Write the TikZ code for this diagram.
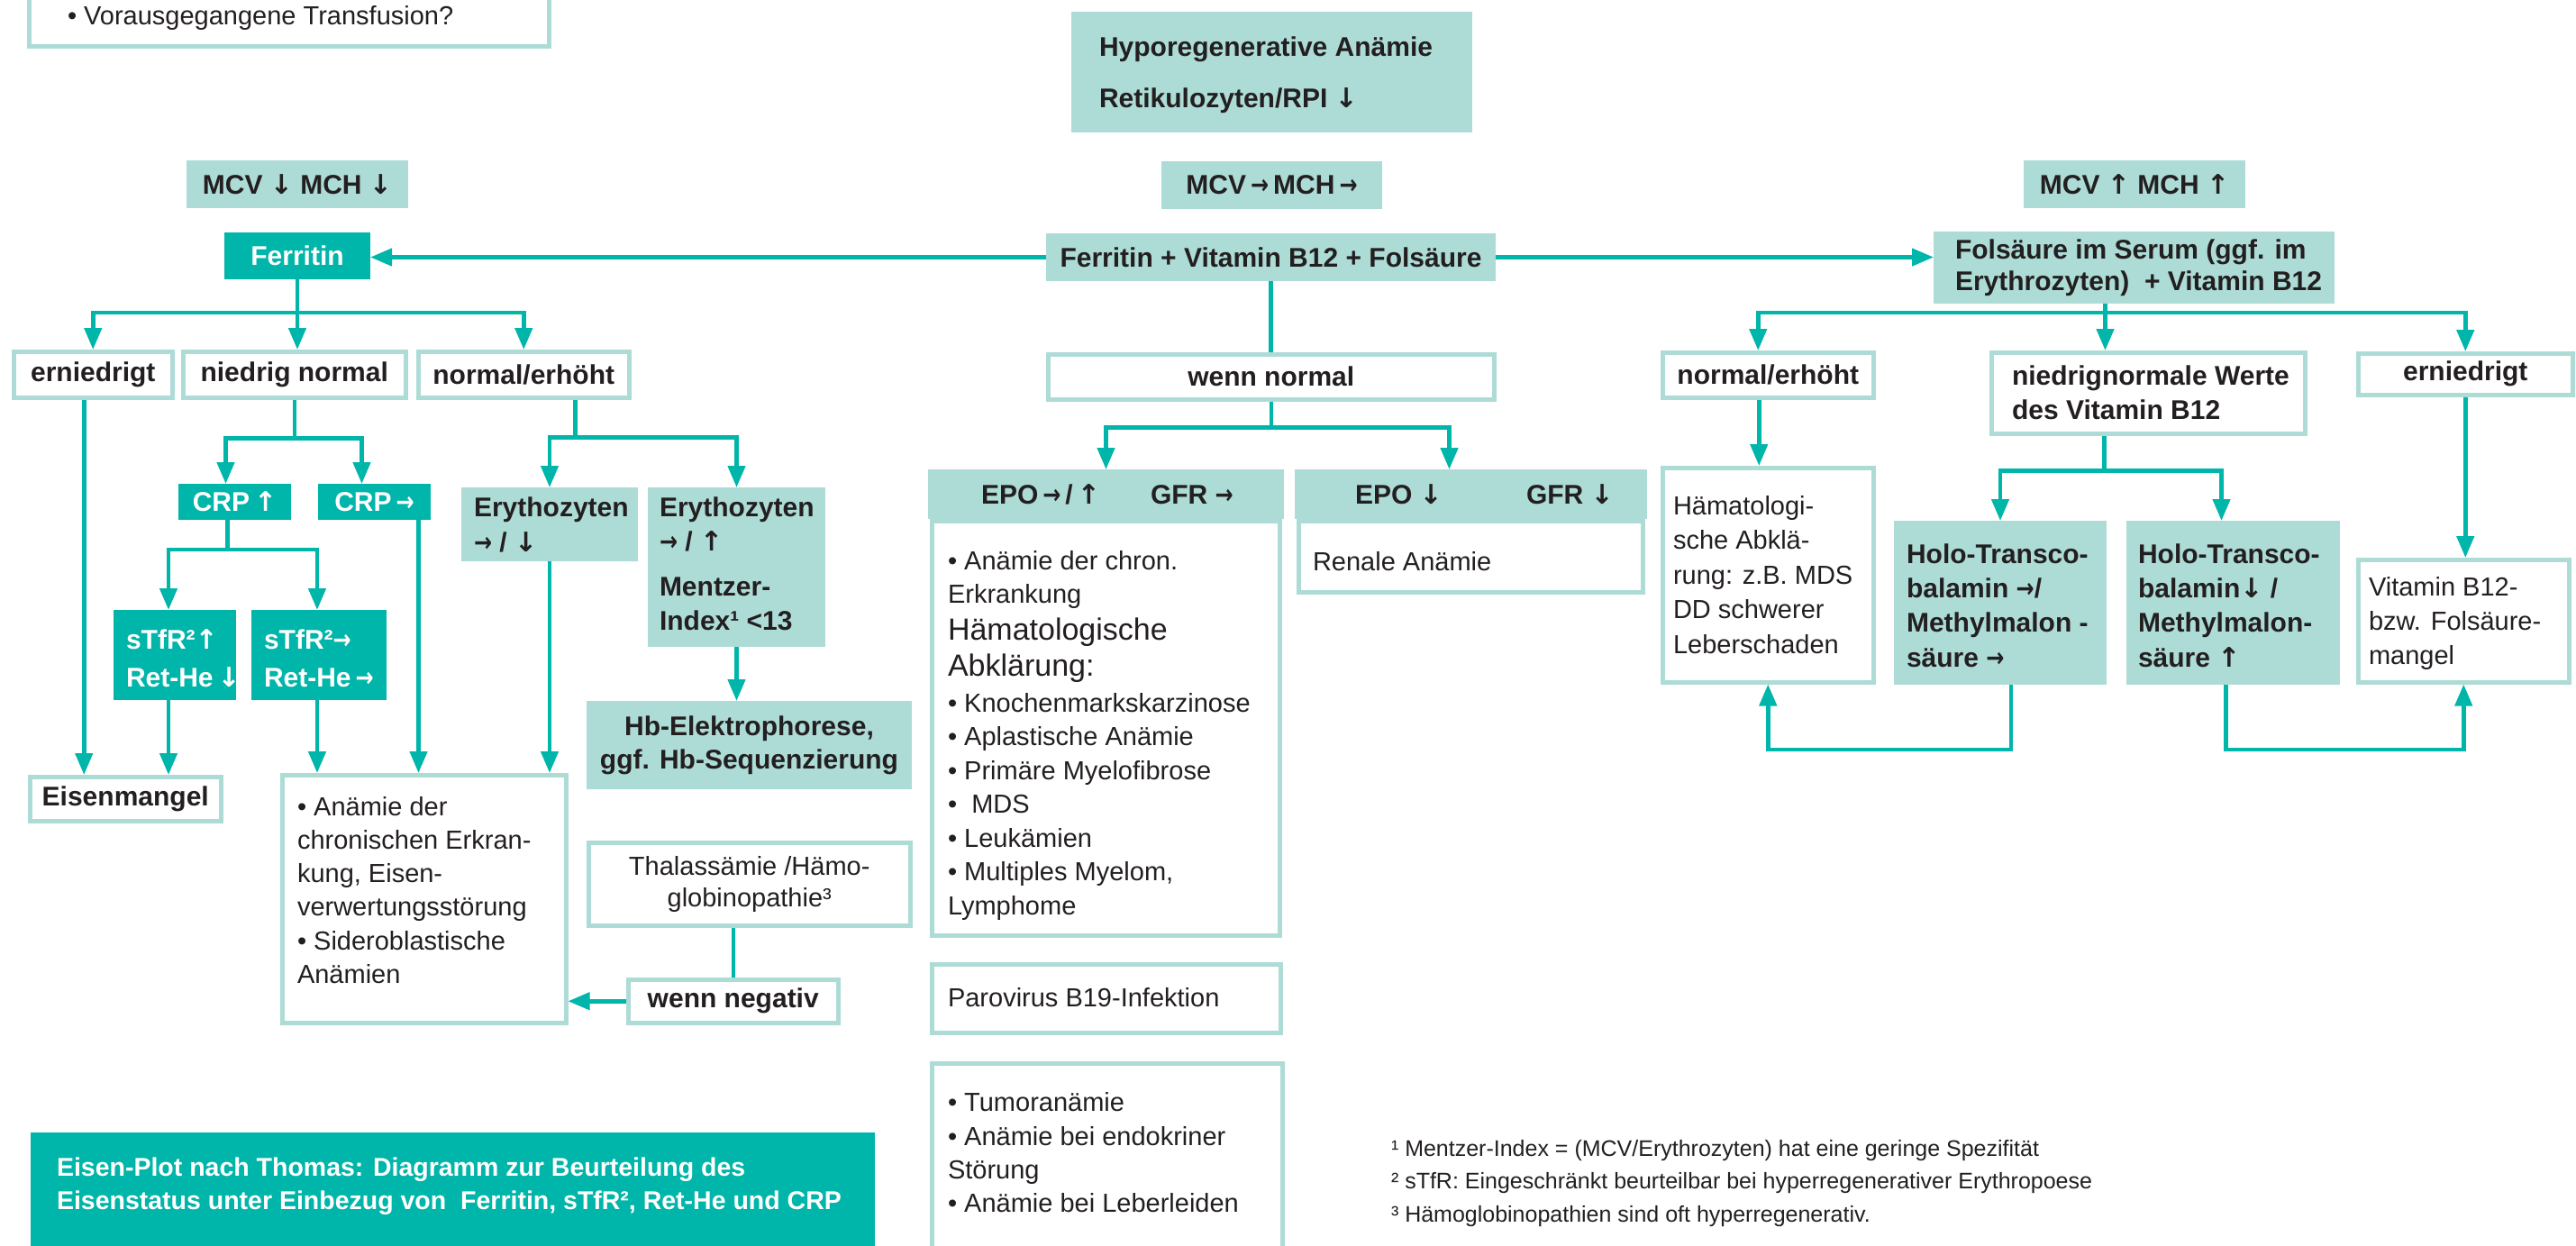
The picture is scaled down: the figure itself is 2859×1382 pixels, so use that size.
\documentclass[tikz,border=0pt]{standalone}
\usepackage{fontspec}
\setmainfont{Liberation Sans}
\newfontfamily\arrf{DejaVu Sans}
\usetikzlibrary{arrows.meta}
\definecolor{lt}{HTML}{ADDCD7}
\definecolor{dk}{HTML}{00B5A9}
\definecolor{tx}{HTML}{231F20}
\newcommand{\arD}{{\arrf\bfseries ↓}}
\newcommand{\arU}{{\arrf\bfseries ↑}}
\newcommand{\arR}{{\arrf\bfseries\scalebox{0.8}[1]{→}}}
\tikzset{
  base/.style={inner sep=0pt, outer sep=0pt, text=tx},
  obox/.style={base, draw=lt, line width=4.5pt, fill=white, outer sep=2.25pt},
  lbox/.style={base, fill=lt},
  dbox/.style={base, fill=dk, text=white},
  wh/.style 2 args={minimum width=#1pt, minimum height=#2pt, anchor=north west},
  fb/.style={font=\fontsize{30}{37}\selectfont\bfseries},
  fr/.style={font=\fontsize{29}{38}\selectfont},
  txt/.style={base, align=left, anchor=west},
  con/.style={draw=dk, line width=4.5pt},
  arr/.style={con, -{Triangle[length=24pt,width=19pt]}},
}
\begin{document}
\begin{tikzpicture}[x=1pt,y=-1pt]
\useasboundingbox (0,0) rectangle (2859,1382);
\clip (0,0) rectangle (2859,1382);
\fill[white] (0,0) rectangle (2859,1382);

% ---------- top ----------
\node[obox, wh={577}{76}] (tl) at (30,-27) {};
\node[txt, fr] (tlt) at (75,20) {• Vorausgegangene Transfusion?};

\node[lbox, wh={445}{134}] (hypo) at (1189,13) {};
\node[txt, font=\fontsize{30}{57}\selectfont\bfseries] (hypot) at (1220,83.5)
  {Hyporegenerative Anämie\\Retikulozyten/RPI \arD};

\node[lbox, fb, wh={246}{53}] (mcvd) at (207,178) {MCV \arD\ MCH \arD};
\node[lbox, fb, wh={245}{53}] (mcvn) at (1289,179) {MCV\,\arR\,MCH\,\arR};
\node[lbox, fb, wh={246}{53}] (mcvu) at (2246,178) {MCV \arU\ MCH \arU};

\node[dbox, fb, wh={162}{52}] (ferr) at (249,258) {Ferritin};
\node[lbox, fb, wh={499}{53}] (fpl) at (1161,259) {Ferritin + Vitamin B12 + Folsäure};
\node[lbox, wh={445}{80}] (fol) at (2146,257) {};
\node[txt, font=\fontsize{30}{35}\selectfont\bfseries] (folt) at (2170,297.5)
  {Folsäure im Serum (ggf. im\\Erythrozyten)\ \ + Vitamin B12};

% ---------- left column ----------
\node[obox, fb, wh={176}{51}] (ern1) at (13,388) {erniedrigt};
\node[obox, fb, wh={247}{51}] (nn) at (201,388) {niedrig normal};
\node[obox, fb, wh={234}{51}] (ne1) at (462,388) {normal/erhöht};

\node[dbox, fb, wh={125}{40}] (crpu) at (198,537) {CRP\,\arU};
\node[dbox, fb, wh={125}{40}] (crpe) at (353,537) {CRP\,\arR};

\node[dbox, wh={136}{100}] (stu) at (126,677) {};
\node[txt, text=white, font=\fontsize{30}{42}\selectfont\bfseries] (stut) at (140,731) {sTfR²\arU\\Ret-He\,\arD};
\node[dbox, wh={150}{100}] (ste) at (279,677) {};
\node[txt, text=white, font=\fontsize{30}{42}\selectfont\bfseries] (stet) at (293,731) {sTfR²\arR\\Ret-He\,\arR};

\node[lbox, wh={196}{82}] (ery1) at (512,541) {};
\node[txt, font=\fontsize{30}{39}\selectfont\bfseries] (ery1t) at (526,582.5) {Erythozyten\\\arR\ / \arD};
\node[lbox, wh={197}{177}] (ery2) at (719,541) {};
\node[txt, font=\fontsize{30}{38}\selectfont\bfseries] (ery2t) at (732,625.5)
  {Erythozyten\\\arR\ / \arU\\[12pt]Mentzer-\\Index¹ <13};

\node[lbox, wh={361}{98}, align=center, font=\fontsize{30}{37}\selectfont\bfseries] (hb) at (651,778)
  {Hb-Elektrophorese,\\ggf. Hb-Sequenzierung};

\node[obox, fb, wh={212}{49}] (eis) at (31,860) {Eisenmangel};
\node[obox, wh={315}{275}] (an) at (311,858) {};
\node[txt, font=\fontsize{29}{37.2}\selectfont] (ant) at (330,988)
  {• Anämie der\\chronischen Erkran-\\kung, Eisen-\\verwertungsstörung\\• Sideroblastische\\Anämien};

\node[obox, wh={357}{92}, align=center, font=\fontsize{29}{35}\selectfont] (thal) at (651,933)
  {Thalassämie /Hämo-\\globinopathie³};
\node[obox, fb, wh={233}{48}] (wn) at (695,1085) {wenn negativ};

\node[dbox, wh={937}{160}] (title) at (34,1257) {};
\node[txt, text=white, font=\fontsize{28.5}{37}\selectfont\bfseries] (titt) at (63,1316.5)
  {Eisen-Plot nach Thomas: Diagramm zur Beurteilung des\\Eisenstatus unter Einbezug von\ \ Ferritin, sTfR², Ret-He und CRP};

% ---------- middle column ----------
\node[obox, fb, wh={495}{50}] (wn2) at (1161,391) {wenn normal};

\node[lbox, fb, wh={395}{55}] (epo1h) at (1030,521)
  {\makebox[188pt][l]{EPO\,\arR\,/\,\arU}\makebox[89pt][l]{GFR \arR}};
\node[obox, wh={386}{460}] (epo1) at (1032,576) {};
\node[txt, font=\fontsize{29}{37.5}\selectfont] (epo1t) at (1052,816)
  {• Anämie der chron.\\Erkrankung\\[3pt]{\fontsize{34}{41}\selectfont Hämatologische}\\[3pt]{\fontsize{34}{41}\selectfont Abklärung:}\\[2pt]• Knochenmarkskarzinose\\• Aplastische Anämie\\• Primäre Myelofibrose\\•\ \ MDS\\• Leukämien\\• Multiples Myelom,\\Lymphome};

\node[lbox, fb, wh={391}{55}] (epo2h) at (1437,521)
  {\makebox[190pt][l]{EPO \arD}\makebox[67pt][l]{GFR \arD}};
\node[obox, wh={382}{79}] (epo2) at (1439,576) {};
\node[txt, fr] (epo2t) at (1457,623) {Renale Anämie};

\node[obox, wh={387}{76}] (par) at (1032,1068) {};
\node[txt, fr] (part) at (1052,1107) {Parovirus B19-Infektion};

\node[obox, wh={389}{260}] (tum) at (1032,1178) {};
\node[txt, font=\fontsize{29}{37.3}\selectfont] (tumt) at (1052,1279.5)
  {• Tumoranämie\\• Anämie bei endokriner\\Störung\\• Anämie bei Leberleiden};

\node[txt, font=\fontsize{25}{36.5}\selectfont] (fnt) at (1544,1313.5)
  {¹ Mentzer-Index = (MCV/Erythrozyten) hat eine geringe Spezifität\\² sTfR: Eingeschränkt beurteilbar bei hyperregenerativer Erythropoese\\³ Hämoglobinopathien sind oft hyperregenerativ.};

% ---------- right column ----------
\node[obox, fb, wh={234}{50}] (ne2) at (1843,389) {normal/erhöht};
\node[obox, wh={348}{90}] (nnw) at (2208,389) {};
\node[txt, font=\fontsize{30}{38}\selectfont\bfseries] (nnwt) at (2233,436)
  {niedrignormale Werte\\des Vitamin B12};
\node[obox, fb, wh={238}{46}] (ern2) at (2615,390) {erniedrigt};

\node[obox, wh={234}{238}] (ham) at (1843,517) {};
\node[txt, font=\fontsize{29}{38.5}\selectfont] (hamt) at (1857,638)
  {Hämatologi-\\sche Abklä-\\rung: z.B. MDS\\DD schwerer\\Leberschaden};

\node[lbox, wh={236}{182}] (holo1) at (2102,578) {};
\node[txt, font=\fontsize{30}{38.3}\selectfont\bfseries] (holo1t) at (2116,672)
  {Holo-Transco-\\balamin \arR/\\Methylmalon -\\säure \arR};
\node[lbox, wh={237}{182}] (holo2) at (2360,578) {};
\node[txt, font=\fontsize{30}{38.3}\selectfont\bfseries] (holo2t) at (2373,672)
  {Holo-Transco-\\balamin\arD\ /\\Methylmalon-\\säure \arU};

\node[obox, wh={234}{136}] (vit) at (2615,619) {};
\node[txt, font=\fontsize{29}{38}\selectfont] (vitt) at (2629,692)
  {Vitamin B12-\\bzw. Folsäure-\\mangel};

% ---------- connectors ----------
\draw[arr] (fpl.west) -- (fpl.west -| ferr.east);
\draw[arr] (fpl.east) -- (fpl.east -| fol.west);

\draw[arr] (ferr.south) -- ++(0,37) -| (ern1.north);
\draw[arr] (ferr.south) -- (ferr.south |- nn.north);
\draw[arr] (ferr.south) -- ++(0,37) -| (ne1.north);

\draw[arr] (nn.south) -- ++(0,43) -| ([xshift=-10pt]crpu.north);
\draw[arr] (nn.south) -- ++(0,43) -| ([xshift=-14pt]crpe.north);
\coordinate (cu) at ([xshift=-8pt]crpu.south);
\draw[arr] (cu) -- ++(0,33) -| ([xshift=-7pt]stu.north);
\draw[arr] (cu) -- ++(0,33) -| ([xshift=-2pt]ste.north);
\coordinate (su) at ([xshift=-7pt]stu.south);
\draw[arr] (su) -- (su |- eis.north);
\coordinate (se) at ([xshift=-2pt]ste.south);
\draw[arr] (se) -- (se |- an.north);
\coordinate (ce) at ([xshift=49pt]crpe.south);
\draw[arr] (ce) -- (ce |- an.north);
\coordinate (eo) at ([xshift=-10pt]ern1.south);
\draw[arr] (eo) -- (eo |- eis.north);

\coordinate (no) at ([xshift=57pt]ne1.south);
\draw[arr] (no) -- ++(0,42) -| (ery1.north);
\draw[arr] (no) -- ++(0,42) -| (ery2.north);
\draw[arr] (ery1.south) -- (ery1.south |- an.north);
\draw[arr] (ery2.south) -- (ery2.south |- hb.north);
\draw[con] (wn.north) -- (wn.north |- thal.south);
\draw[arr] (wn.west) -- (wn.west -| an.east);

\draw[con] (fpl.south) -- (fpl.south |- wn2.north);
\draw[arr] (wn2.south) -- ++(0,29) -| (epo1h.north);
\draw[arr] (wn2.south) -- ++(0,29) -| ([xshift=-24pt]epo2h.north);

\coordinate (fo) at ([xshift=-32pt]fol.south);
\draw[arr] (fo) -- (fo |- nnw.north);
\draw[arr] (fo) -- ++(0,10) -| ([xshift=-11pt]ne2.north);
\draw[arr] (fo) -- ++(0,10) -| (ern2.north);
\coordinate (n2o) at ([xshift=-10pt]ne2.south);
\draw[arr] (n2o) -- (n2o |- ham.north);
\coordinate (nwo) at ([xshift=-49pt]nnw.south);
\draw[arr] (nwo) -- ++(0,39) -| (holo1.north);
\draw[arr] (nwo) -- ++(0,39) -| ([xshift=-13pt]holo2.north);
\draw[arr] (ern2.south) -- (ern2.south |- vit.north);
\draw[arr] ([xshift=12pt]holo1.south) -- ++(0,72) -| (ham.south);
\draw[arr] ([xshift=-8pt]holo2.south) -- ++(0,72) -| (vit.south);
\end{tikzpicture}
\end{document}
